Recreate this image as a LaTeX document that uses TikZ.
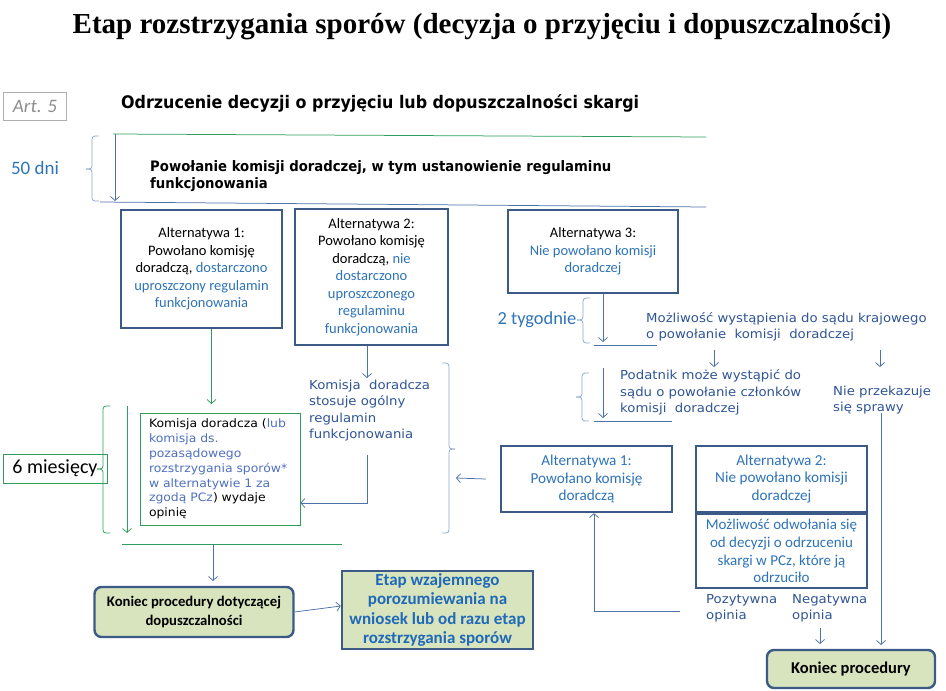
\documentclass[tikz,border=0pt]{standalone}
\usepackage{fontspec}
\setmainfont{Carlito}
\newfontfamily\verdfont[FakeStretch=1.07]{DejaVu Sans}
\newfontfamily\tahfont[FakeStretch=0.92]{DejaVu Sans}
\newfontfamily\timesfont{Liberation Serif}
\usetikzlibrary{arrows.meta,positioning}
\definecolor{boxblue}{HTML}{3B5A86}
\definecolor{txtblue}{HTML}{2E73B8}
\definecolor{etapblue}{HTML}{2069B8}
\definecolor{navyx}{HTML}{2F5496}
\definecolor{komblue}{HTML}{4F6FBF}
\definecolor{linex}{HTML}{4D72A8}
\definecolor{bracex}{HTML}{8EA8C9}
\definecolor{greenx}{HTML}{2E9E5B}
\definecolor{olivex}{HTML}{D7E4BD}
\definecolor{grayx}{HTML}{8C8C8C}
\newcommand{\fs}[2]{\fontsize{#1}{#2}\selectfont}
\newcommand{\bl}[1]{\textcolor{txtblue}{#1}}
\newcommand{\kb}[1]{\textcolor{komblue}{#1}}
% brackets: x, top, tip, bottom, colour
\newcommand{\brcL}[5]{%
  \draw[#5,line width=0.8pt,rounded corners=3pt] (#1+7,#2) -- (#1,#2) -- (#1,#3) -- (#1-6,#3);
  \draw[#5,line width=0.8pt,rounded corners=3pt] (#1-6,#3) -- (#1,#3) -- (#1,#4) -- (#1+7,#4);}
\newcommand{\brcR}[5]{%
  \draw[#5,line width=0.8pt,rounded corners=3pt] (#1-7,#2) -- (#1,#2) -- (#1,#3) -- (#1+6,#3);
  \draw[#5,line width=0.8pt,rounded corners=3pt] (#1+6,#3) -- (#1,#3) -- (#1,#4) -- (#1-7,#4);}
\tikzset{
  ar/.style={-{Straight Barb[length=4pt,width=9pt]},line width=0.75pt,linex},
  gar/.style={ar,greenx},
  ln/.style={line width=0.75pt,linex},
  gln/.style={line width=0.75pt,greenx},
  altbox/.style={draw=boxblue,line width=2.2pt,align=center,inner sep=0pt,font=\fs{14.5}{17.5}},
  endbox/.style={draw=boxblue,line width=2.4pt,fill=olivex,rounded corners=7pt,align=center,inner sep=0pt,font=\bfseries\fs{14.7}{19}},
  vtxt/.style={anchor=west,align=left,inner sep=0pt,text=navyx,font=\verdfont\fs{12.4}{16.4}}
}
\begin{document}
\begin{tikzpicture}[x=1pt,y=-1pt]
\useasboundingbox (0,0) rectangle (946,691);
% title and header
\node (title) at (482,27) {\timesfont\bfseries\fs{29}{32}Etap rozstrzygania sporów (decyzja o przyjęciu i dopuszczalności)};
\node[draw=grayx!70,line width=0.6pt,minimum width=63pt,minimum height=28pt,inner sep=0pt,text=grayx,font=\itshape\fs{19}{21}] (art) at (35,106) {Art. 5};
\node[anchor=west,inner sep=0pt,font=\tahfont\bfseries\fs{17.3}{19}] (head) at (121,103) {Odrzucenie decyzji o przyjęciu lub dopuszczalności skargi};

% 50 dni
\coordinate (gtA) at (113,134); \coordinate (gtB) at (706,137);
\coordinate (blA) at (100,202); \coordinate (blB) at (706,207);
\coordinate (a50) at (115,134); \coordinate (a50b) at (115,201);
\draw[gln] (gtA) -- (gtB);
\draw[ln] (blA) -- (blB);
\draw[ar] (a50) -- (a50b);
\brcL{92}{136}{169}{201}{bracex}
\node[font=\fs{19}{21},text=txtblue,inner sep=0pt] (d50) at (35,168) {50 dni};
\node[anchor=west,align=left,inner sep=0pt,font=\tahfont\bfseries\fs{14.4}{17}] (pow) at (150,176.5) {Powołanie komisji doradczej, w tym ustanowienie regulaminu\\funkcjonowania};

% alternatives
\node[altbox,minimum width=161pt,minimum height=118pt] (alt1) at (201.5,269) {Alternatywa 1:\\Powołano komisję\\doradczą, \bl{dostarczono}\\\bl{uproszczony regulamin}\\\bl{funkcjonowania}};
\node[altbox,minimum width=153pt,minimum height=136pt] (alt2) at (371.5,277) {Alternatywa 2:\\Powołano komisję\\doradczą, \bl{nie}\\\bl{dostarczono}\\\bl{uproszczonego}\\\bl{regulaminu}\\\bl{funkcjonowania}};
\node[altbox,minimum width=170pt,minimum height=83pt] (alt3) at (593,251.5) {Alternatywa 3:\\\bl{Nie powołano komisji}\\\bl{doradczej}};

% opinion of the commission
\node[draw=greenx,line width=0.8pt,minimum width=160pt,minimum height=112pt,text width=142pt,align=left,inner sep=0pt,font=\verdfont\fs{11.6}{14.8}] (kom) at (220,469) {Komisja doradcza (\kb{lub}\\\kb{komisja ds.}\\\kb{pozasądowego}\\\kb{rozstrzygania sporów*}\\\kb{w alternatywie 1 za}\\\kb{zgodą PCz}) wydaje\\opinię};
\node[draw=greenx,line width=0.8pt,minimum width=104pt,minimum height=29pt,inner sep=0pt,font=\fs{20}{22}] (m6) at (55,468.5) {6 miesięcy};
\brcL{103}{406}{469}{533}{greenx}
\coordinate (g6t) at (127,406); \coordinate (g6b) at (127,533);
\draw[gar] (g6t) -- (g6b);
\coordinate (g2t) at (211.5,404);
\draw[gar] ([xshift=10pt]alt1.south) -- (g2t);
\node[vtxt] (kst) at (309,410.5) {Komisja\ \ doradcza\\stosuje ogólny\\regulamin\\funkcjonowania};
\coordinate (kstT) at (367,378); \coordinate (kstB) at (367,455); \coordinate (kstC) at (367,503);
\draw[ar] ([xshift=-4.5pt]alt2.south) -- (kstT);
\draw[ar] (kstB) -- (kstC) -- (kom.east |- kstC);
\brcR{449}{363}{449}{533}{bracex}

% end of admissibility
\coordinate (gbA) at (122,544); \coordinate (gbB) at (342,544);
\coordinate (gbM) at (213,544); \coordinate (konAt) at (213,581);
\draw[gln] (gbA) -- (gbB);
\node[endbox,minimum width=199pt,minimum height=50pt] (konA) at (194,612) {Koniec procedury dotyczącej\\dopuszczalności};
\node[endbox,sharp corners,minimum width=191pt,minimum height=78pt,text=etapblue,font=\bfseries\fs{17}{19.5}] (etap) at (437.5,610) {Etap wzajemnego\\porozumiewania na\\wniosek lub od razu etap\\rozstrzygania sporów};
\draw[ar] (gbM) -- (konAt);
\draw[ar] (konA.east) -- ([yshift=4pt]etap.west);

% right branch
\node[font=\fs{18.4}{20},text=txtblue,inner sep=0pt] (t2) at (537,320) {2 tygodnie};
\brcL{583}{298}{320}{343}{bracex}
\coordinate (a3b) at (603,342);
\draw[ar] ([xshift=10pt]alt3.south) -- (a3b);
\coordinate (t2A) at (594,345); \coordinate (t2B) at (657,345);
\draw[ln] (t2A) -- (t2B);
\node[vtxt] (mozl) at (646,327) {Możliwość wystąpienia do sądu krajowego\\o powołanie\ \ komisji\ \ doradczej};
\coordinate (mzA) at (714,350); \coordinate (mzB) at (714,367);
\coordinate (mzC) at (880,350); \coordinate (mzD) at (880,367);
\draw[ar] (mzA) -- (mzB);
\draw[ar] (mzC) -- (mzD);
\node[vtxt] (podat) at (620,392.5) {Podatnik może wystąpić do\\sądu o powołanie członków\\komisji\ \ doradczej};
\brcL{582}{373}{397}{421}{bracex}
\coordinate (pdA) at (603,368); \coordinate (pdB) at (603,418);
\coordinate (pdC) at (594,421); \coordinate (pdD) at (672,421);
\draw[ar] (pdA) -- (pdB);
\draw[ln] (pdC) -- (pdD);
\node[vtxt] (niep) at (833,400) {Nie przekazuje\\się sprawy};

\node[altbox,text=txtblue,minimum width=171pt,minimum height=66pt,font=\fs{15.2}{17.5}] (ralt1) at (586.5,479) {Alternatywa 1:\\Powołano komisję\\doradczą};
\node[altbox,text=txtblue,minimum width=171pt,minimum height=66pt,font=\fs{15.2}{17.5}] (ralt2) at (781.5,479) {Alternatywa 2:\\Nie powołano komisji\\doradczej};
\node[altbox,text=txtblue,minimum width=171pt,minimum height=74pt,font=\fs{15}{17.7},below=0pt of ralt2] (odw) {Możliwość odwołania się\\od decyzji o odrzuceniu\\skargi w PCz, które ją\\odrzuciło};
\coordinate (brt) at (456,478);
\draw[ar] ([xshift=-14pt]ralt1.west) -- (brt);

\node[vtxt] (pozy) at (706,608.5) {Pozytywna\\opinia};
\node[vtxt] (negat) at (792,608.5) {Negatywna\\opinia};
\node[endbox,minimum width=168pt,minimum height=38pt,font=\bfseries\fs{16.5}{18}] (konB) at (851,669) {Koniec procedury};
\coordinate (pzA) at (680,611);
\draw[ar] (pzA) -| ([xshift=7.5pt]ralt1.south);
\coordinate (ngA) at (820,628); \coordinate (ngB) at (820,644);
\draw[ar] (ngA) -- (ngB);
\coordinate (npA) at (881,413); \coordinate (npB) at (881,645);
\draw[ar] (npA) -- (npB);
\end{tikzpicture}
\end{document}
